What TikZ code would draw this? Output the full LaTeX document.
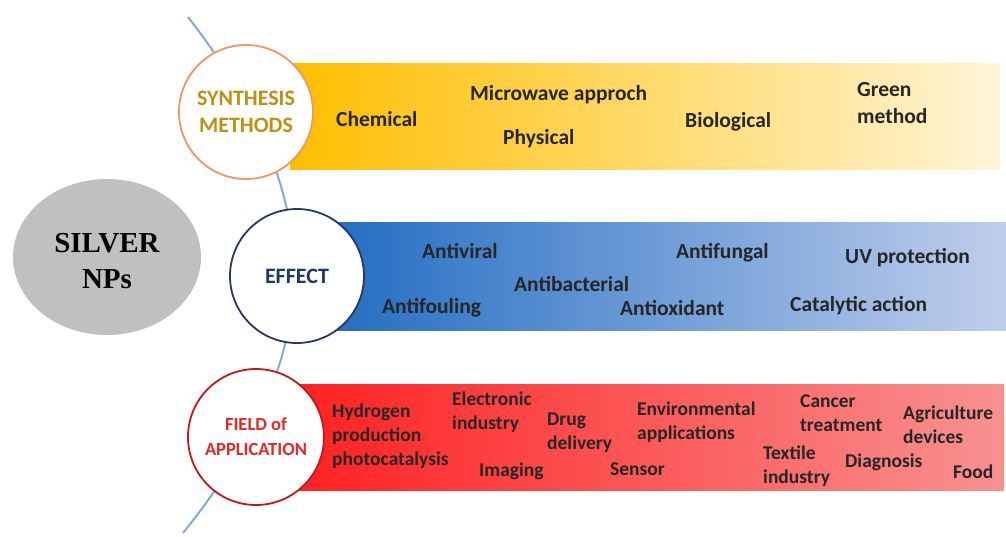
\documentclass[tikz,border=0pt]{standalone}
\usepackage{fontspec}
\setmainfont{Carlito}
\newfontfamily\npfont{Liberation Serif}
\usepackage{tikz}
\usetikzlibrary{positioning,shapes.geometric}

\definecolor{arcblue}{RGB}{135,168,222}
\definecolor{silvergray}{RGB}{192,192,192}
\definecolor{synline}{RGB}{240,150,100}
\definecolor{syntext}{RGB}{190,145,20}
\definecolor{effline}{RGB}{40,55,100}
\definecolor{efftext}{RGB}{31,56,100}
\definecolor{fldline}{RGB}{200,20,30}
\definecolor{fldtext}{RGB}{230,40,40}
\definecolor{yelA}{RGB}{255,190,0}
\definecolor{yelB}{RGB}{255,245,215}
\definecolor{bluA}{RGB}{28,105,192}
\definecolor{bluB}{RGB}{192,206,236}
\definecolor{redA}{RGB}{255,32,32}
\definecolor{redB}{RGB}{248,145,145}

\begin{document}
\begin{tikzpicture}[x=1pt,y=-1pt]

\tikzset{topic/.style={circle, draw, fill=white, line width=1.8pt, minimum size=134pt,
            inner sep=0pt, align=center, font=\fontsize{22}{27}\selectfont\bfseries},
         bar/.style={anchor=west, inner sep=0pt, minimum height=106pt},
         item/.style={anchor=mid west, inner sep=0pt, yshift=-5pt, text=black!85,
            font=\fontsize{21.5}{27}\selectfont\bfseries},
         block/.style={anchor=west, inner sep=0pt, align=left, text=black!85,
            font=\fontsize{21.5}{27}\selectfont\bfseries},
         field/.style={font=\fontsize{19.5}{24}\selectfont\bfseries}}

\useasboundingbox (0,0) rectangle (1006,536);

\coordinate (arctop) at (188,17);
\coordinate (arcbot) at (183,533);
\draw[arcblue, line width=2pt] (arctop) .. controls (330,200) and (330,350) .. (arcbot);

\node[bar, minimum width=710pt, left color=yelA, right color=yelB] (synbar) at (290,116.5) {};
\node[bar, minimum width=706pt, minimum height=108pt, left color=bluA, right color=bluB] (effbar) at (300,276) {};
\node[bar, minimum width=714pt, left color=redA, right color=redB] (fldbar) at (290,437) {};

\node[ellipse, fill=silvergray, minimum width=188pt, minimum height=156pt] (silver) at (107,257) {};
\node[align=center, yshift=-4pt, font=\npfont\fontsize{29}{36}\selectfont\bfseries] (silvername) at (silver) {SILVER\\NPs};

\node[topic, draw=synline, text=syntext] (synth) at (246,112) {SYNTHESIS\\METHODS};
\node[topic, draw=effline, text=efftext] (effect) at (297,276) {EFFECT};
\node[topic, draw=fldline, text=fldtext, minimum size=136pt,
      font=\fontsize{18.5}{25}\selectfont\bfseries] (appl) at (256,437) {FIELD of\\APPLICATION};

\node[item] (chem) at (336,119) {Chemical};
\node[item] (micro) at (470,93) {Microwave approch};
\node[item] (phys) at (503,137) {Physical};
\node[item] (bio) at (685,120) {Biological};
\node[block] (green) at (857,103) {Green\\method};

\node[item] (viral) at (422,251) {Antiviral};
\node[item] (fungal) at (676,251) {Antifungal};
\node[item] (uv) at (845,256) {UV protection};
\node[item] (bact) at (514,284) {Antibacterial};
\node[item] (foul) at (382,306) {Antifouling};
\node[item] (oxid) at (620,308) {Antioxidant};
\node[item] (catal) at (790,304) {Catalytic action};

\node[block, field] (hydro) at (332,436.5) {Hydrogen\\production\\photocatalysis};
\node[block, field] (elec) at (452,412) {Electronic\\industry};
\node[block, field] (drug) at (547,432.5) {Drug\\delivery};
\node[item, field] (imag) at (479,469) {Imaging};
\node[block, field] (envir) at (637,422) {Environmental\\applications};
\node[item, field] (sens) at (610,468) {Sensor};
\node[block, field] (cancer) at (800,413) {Cancer\\treatment};
\node[block, field] (agri) at (903,425) {Agriculture\\devices};
\node[block, field] (textile) at (763,466) {Textile\\industry};
\node[item, field] (diag) at (845,460) {Diagnosis};
\node[item, field] (food) at (953,471) {Food};

\end{tikzpicture}
\end{document}
